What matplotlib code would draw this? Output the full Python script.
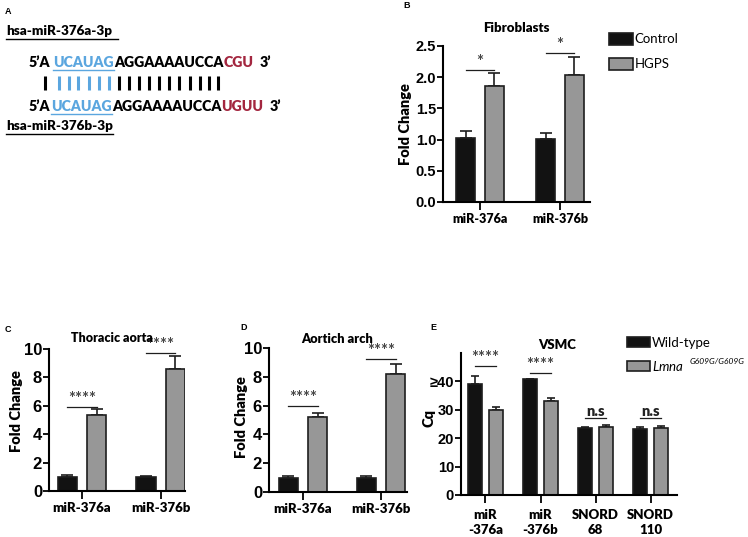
import numpy as np
import matplotlib
matplotlib.use("Agg")
import matplotlib.pyplot as plt
from matplotlib.patches import Patch

plt.rcParams.update({
    "font.family": ["Lato", "DejaVu Sans"],
    "mathtext.fontset": "custom",
    "mathtext.it": "Lato:italic",
    "mathtext.rm": "Lato",
})

# ---- data -------------------------------------------------------------
fib_groups = ["miR-376a", "miR-376b"]
fib_ctrl = [1.02, 1.01]
fib_ctrl_err = [0.12, 0.10]
fib_hgps = [1.86, 2.03]
fib_hgps_err = [0.20, 0.29]
fib_sig = ["*", "*"]
fib_sig_y = [2.12, 2.38]

tho_groups = ["miR-376a", "miR-376b"]
tho_ctrl = [1.0, 1.0]
tho_ctrl_err = [0.10, 0.08]
tho_case = [5.35, 8.62]
tho_case_err = [0.40, 0.92]
tho_sig = ["****", "****"]
tho_sig_y = [5.9, 9.7]

arch_groups = ["miR-376a", "miR-376b"]
arch_ctrl = [1.0, 1.0]
arch_ctrl_err = [0.10, 0.10]
arch_case = [5.2, 8.2]
arch_case_err = [0.28, 0.70]
arch_sig = ["****", "****"]
arch_sig_y = [6.0, 9.25]

vsmc_groups = ["miR\n-376a", "miR\n-376b", "SNORD\n68", "SNORD\n110"]
vsmc_wt = [39.1, 41.0, 23.5, 23.3]
vsmc_wt_err = [2.8, 0.0, 0.5, 0.5]
vsmc_mut = [30.0, 33.0, 24.0, 23.6]
vsmc_mut_err = [1.1, 1.2, 0.8, 0.7]
vsmc_sig = ["****", "****", "n.s", "n.s"]
vsmc_sig_y = [45.4, 42.9, 27.2, 27.2]

BLACK = "#121212"
GRAY = "#979797"
EDGE = "#1e1e1e"
BLUE = "#5ba6df"
RED = "#a3263f"
HEAVY = 800

W, H = 748, 537
fig = plt.figure(figsize=(W / 100, H / 100), dpi=100)


def px_axes(left, top, right, bottom):
    return fig.add_axes([left / W, 1 - bottom / H, (right - left) / W, (bottom - top) / H])


def bar_panel(ax, names, a, a_err, b, b_err, sig, sig_y, xlim, ylim, yticks,
              off, width, ysize, xsize, capsize, ylabel, ylab_xy):
    x = np.arange(len(names))
    n = len(names)
    for vals, errs, col, dx in ((a, a_err, BLACK, -off), (b, b_err, GRAY, off)):
        ax.errorbar(x + dx, vals, yerr=[np.zeros(n), errs], fmt="none",
                    ecolor=EDGE, elinewidth=1.2, capsize=capsize, capthick=1.2, zorder=1)
        ax.bar(x + dx, vals, width, color=col, edgecolor=EDGE, linewidth=1.2, zorder=2)
    for xi, s, sy in zip(x, sig, sig_y):
        ax.plot([xi - off, xi + off], [sy, sy], color=EDGE, lw=0.9)
        if s == "n.s":
            ax.text(xi, sy, s, ha="center", va="bottom", fontsize=10.5,
                    fontweight=HEAVY, color="#222222")
        else:
            ax.text(xi, sy, s, ha="center", va="bottom", fontsize=12,
                    fontweight="bold", color="#444444")
    ax.set_xlim(*xlim)
    ax.set_ylim(*ylim)
    ax.set_yticks(yticks)
    ax.set_xticks(x, names)
    for side in ("top", "right"):
        ax.spines[side].set_visible(False)
    for side in ("left", "bottom"):
        ax.spines[side].set_linewidth(1.5)
    ax.tick_params(axis="y", length=4, width=1.3, pad=1, labelsize=ysize)
    ax.tick_params(axis="x", length=6, width=1.3, pad=2, labelsize=xsize)
    for lbl in ax.get_yticklabels():
        lbl.set_fontfamily("Liberation Sans")
        lbl.set_fontweight("bold")
    for lbl in ax.get_xticklabels():
        lbl.set_fontweight(HEAVY)
    ax.set_ylabel(ylabel, fontsize=10.5, fontweight=HEAVY)
    ax.yaxis.set_label_coords(*ylab_xy)


# ---- panel A (sequence alignment) --------------------------------------
axA = fig.add_axes([0, 0, 1, 1])
axA.set_xlim(0, W)
axA.set_ylim(H, 0)
axA.axis("off")
renderer = fig.canvas.get_renderer()


def text_width(s, **kw):
    t = axA.text(0, 0, s, **kw)
    w = t.get_window_extent(renderer).width
    t.remove()
    return w


def fit_size(s, target, weight=HEAVY):
    return 10 * target / text_width(s, fontsize=10, fontweight=weight)


seq_kw = dict(fontsize=fit_size("AGGAAAAUCCA", 110), fontweight=HEAVY, va="baseline")
line1 = [("5’A", "black", False), ("UCAUAG", BLUE, True), ("AGGAAAAUCCA", "black", False),
         ("CGU", RED, False), ("3’", "black", False)]
line1_gap = [0, 3, 0, 0, 6]
line2 = [("5’A", "black", False), ("UCAUAG", BLUE, True), ("AGGAAAAUCCA", "black", False),
         ("UGUU", RED, False), ("3’", "black", False)]
line2_gap = [0, 1, 0, 0, 6]


def draw_line(parts, x, y, gaps):
    centers = []
    for (s, col, ul), gap in zip(parts, gaps):
        x += gap
        axA.text(x, y, s, color=col, **seq_kw)
        w = text_width(s, **seq_kw)
        if ul:
            axA.plot([x, x + w], [y + 2.5, y + 2.5], color=col, lw=1.0)
        for i in range(len(s)):
            c0 = text_width(s[:i], **seq_kw) if i else 0
            c1 = text_width(s[:i + 1], **seq_kw)
            centers.append((x + (c0 + c1) / 2, col))
        x += w
    return centers


c1 = draw_line(line1, 29, 67, line1_gap)
draw_line(line2, 29, 111, line2_gap)
pairs = c1[2:20]  # A + UCAUAG + AGGAAAAUCCA
for xc, col in pairs:
    axA.plot([xc, xc], [76, 90], color=col, lw=2.2, solid_capstyle="butt")

lab_kw = dict(fontsize=fit_size("hsa-miR-376a-3p", 106), fontweight=HEAVY, va="baseline")
axA.text(6, 35, "hsa-miR-376a-3p", **lab_kw)
axA.plot([6, 6 + text_width("hsa-miR-376a-3p", **lab_kw) + 6], [38.5, 38.5], color="black", lw=1.0)
axA.text(6, 130, "hsa-miR-376b-3p", **lab_kw)
axA.plot([6, 6 + text_width("hsa-miR-376b-3p", **lab_kw)], [133.5, 133.5], color="black", lw=1.0)

for letter, lx, ly in (("A", 5, 12), ("B", 403, 6), ("C", 5, 329), ("D", 240, 327), ("E", 430, 327)):
    axA.text(lx, ly, letter, fontsize=6.5, fontweight="bold", ha="left", va="center",
             family="Liberation Sans")

# ---- panel B: fibroblasts ---------------------------------------------
axB = px_axes(443, 46, 590, 202)
bar_panel(axB, fib_groups, fib_ctrl, fib_ctrl_err, fib_hgps, fib_hgps_err, fib_sig, fib_sig_y,
          xlim=(-0.4625, 1.375), ylim=(0, 2.5), yticks=[0, 0.5, 1.0, 1.5, 2.0, 2.5],
          off=0.18, width=0.24, ysize=10.5, xsize=9, capsize=4.5,
          ylabel="Fold Change", ylab_xy=(-0.21, 0.5))
axB.set_yticklabels(["0.0", "0.5", "1.0", "1.5", "2.0", "2.5"], fontfamily="Liberation Sans",
                    fontweight="bold")
fig.text(516 / W, 1 - 28 / H, "Fibroblasts", ha="center", va="center", fontsize=9.5, fontweight=HEAVY)
fig.legend(handles=[Patch(facecolor=BLACK, edgecolor=EDGE, lw=1.2, label="Control"),
                    Patch(facecolor=GRAY, edgecolor=EDGE, lw=1.2, label="HGPS")],
           loc="upper left", bbox_to_anchor=(609 / W, 1 - 33 / H), frameon=False,
           fontsize=9.5, handlelength=1.8, handleheight=1.0, handletextpad=0.15,
           labelspacing=0.95, borderpad=0, borderaxespad=0)

# ---- panel C: thoracic aorta -------------------------------------------
axC = px_axes(49, 349, 185, 491)
bar_panel(axC, tho_groups, tho_ctrl, tho_ctrl_err, tho_case, tho_case_err, tho_sig, tho_sig_y,
          xlim=(-0.42, 1.31), ylim=(0, 10), yticks=[0, 2, 4, 6, 8, 10],
          off=0.185, width=0.245, ysize=12, xsize=9.5, capsize=4.5,
          ylabel="Fold Change", ylab_xy=(-0.19, 0.56))
fig.text(112 / W, 1 - 338 / H, "Thoracic aorta", ha="center", va="center", fontsize=9, fontweight=HEAVY)

# ---- panel D: aortic arch ----------------------------------------------
axD = px_axes(269, 348, 407, 492)
bar_panel(axD, arch_groups, arch_ctrl, arch_ctrl_err, arch_case, arch_case_err, arch_sig, arch_sig_y,
          xlim=(-0.436, 1.333), ylim=(0, 10), yticks=[0, 2, 4, 6, 8, 10],
          off=0.19, width=0.245, ysize=12, xsize=9.5, capsize=4.5,
          ylabel="Fold Change", ylab_xy=(-0.152, 0.52))
fig.text(337 / W, 1 - 339 / H, "Aortich arch", ha="center", va="center", fontsize=9.3, fontweight=HEAVY)

# ---- panel E: VSMC -----------------------------------------------------
axE = px_axes(461, 353, 677, 495)
bar_panel(axE, vsmc_groups, vsmc_wt, vsmc_wt_err, vsmc_mut, vsmc_mut_err, vsmc_sig, vsmc_sig_y,
          xlim=(-0.445, 3.48), ylim=(0, 50), yticks=[0, 10, 20, 30, 40],
          off=0.19, width=0.255, ysize=10.5, xsize=9.5, capsize=3,
          ylabel="Cq", ylab_xy=(-0.12, 0.54))
axE.set_yticklabels(["0", "10", "20", "30", "≥40"], fontfamily="Liberation Sans", fontweight="bold")
axE.tick_params(axis="x", pad=4)
for lbl in axE.get_xticklabels():
    lbl.set_linespacing(1.3)
fig.text(557 / W, 1 - 345 / H, "VSMC", ha="center", va="center", fontsize=9.5, fontweight=HEAVY)
fig.legend(handles=[Patch(facecolor=BLACK, edgecolor=EDGE, lw=1.2, label="Wild-type"),
                    Patch(facecolor=GRAY, edgecolor=EDGE, lw=1.2, label=r"$\mathit{Lmna}$")],
           loc="upper left", bbox_to_anchor=(627 / W, 1 - 337 / H), frameon=False,
           fontsize=9.5, handlelength=1.75, handleheight=0.8, handletextpad=0.15,
           labelspacing=0.75, borderpad=0, borderaxespad=0)
fig.text(690 / W, 1 - 362 / H, "G609G/G609G", ha="left", va="center", fontsize=6,
         style="italic")

fig.savefig("out.png", dpi=100)
